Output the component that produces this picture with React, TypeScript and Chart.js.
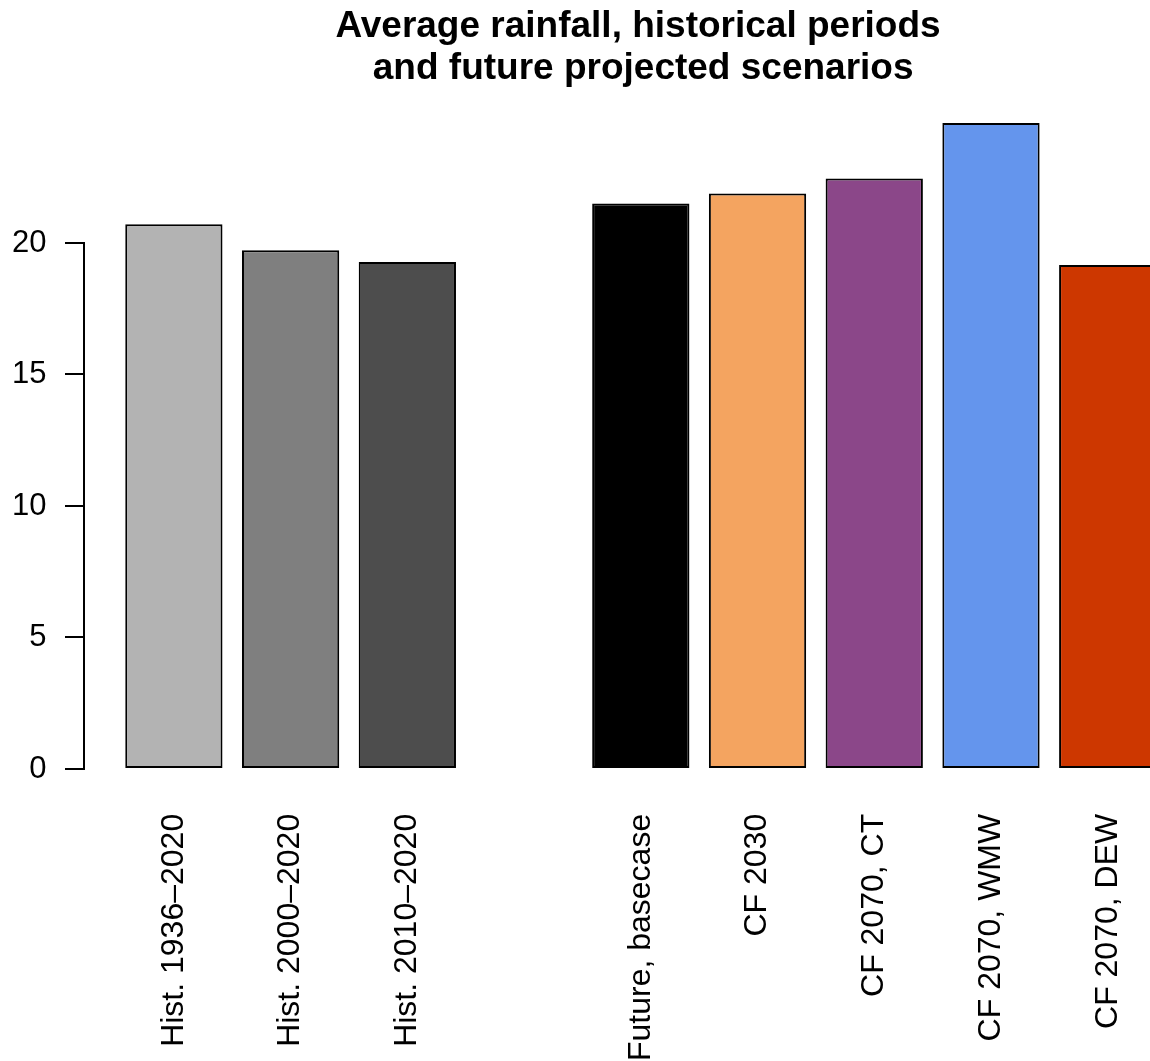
import React, { useEffect, useRef } from "react";
import { Chart, registerables } from "chart.js";

Chart.register(...registerables);

// ---- data ----
const categories = [
  "Hist. 1936–2020",
  "Hist. 2000–2020",
  "Hist. 2010–2020",
  "Future, basecase",
  "CF 2030",
  "CF 2070, CT",
  "CF 2070, WMW",
  "CF 2070, DEW",
];
const rainfall = [20.71, 19.72, 19.28, 21.5, 21.88, 22.45, 24.56, 19.16];
const periodGroup = [
  "historical",
  "historical",
  "historical",
  "future",
  "future",
  "future",
  "future",
  "future",
];
const barColors = [
  "#B3B3B3",
  "#7F7F7F",
  "#4D4D4D",
  "#000000",
  "#F4A460",
  "#8B4789",
  "#6495ED",
  "#CD3700",
];
const yTickValues = [0, 5, 10, 15, 20];
const titleLines = [
  "Average rainfall, historical periods",
  " and future projected scenarios",
];

// ---- layout (barplot-like geometry) ----
const FONT = "'Liberation Sans', Arial, Helvetica, sans-serif";
const CANVAS_W = 1276;
const CANVAS_H = 1061;
const PLOT_LEFT = 84;
const PLOT_RIGHT = 1197.6;
const PLOT_TOP = 97.2;
const PLOT_BOTTOM = 794.8;
const LINE_W = 2;

const BAR_WIDTH = 1;
const SPACE = 0.2;
const slots = categories.map((_, i) => i + (periodGroup[i] === "future" ? 1 : 0));
const xPositions = slots.map((s) => SPACE + s * (BAR_WIDTH + SPACE) + BAR_WIDTH / 2);
const xLo = SPACE;
const xHi = xPositions[xPositions.length - 1] + BAR_WIDTH / 2;
const xPad = 0.04 * (xHi - xLo);
const xAxisMin = xLo - xPad;
const pxPerUnit = (PLOT_RIGHT - PLOT_LEFT) / (xHi + xPad - xAxisMin);
const xAxisMax = xAxisMin + (CANVAS_W - PLOT_LEFT) / pxPerUnit;
const yMaxData = Math.max(...rainfall);
const yPad = 0.04 * yMaxData;

const axisLinePlugin = {
  id: "rAxisLine",
  afterDraw(chart: any) {
    const y = chart.scales.y;
    const ctx = chart.ctx;
    const x = Math.round(chart.chartArea.left);
    ctx.save();
    ctx.strokeStyle = "#000";
    ctx.lineWidth = LINE_W;
    ctx.beginPath();
    ctx.moveTo(x, y.getPixelForValue(yTickValues[0]) + LINE_W / 2);
    ctx.lineTo(x, y.getPixelForValue(yTickValues[yTickValues.length - 1]) - LINE_W / 2);
    ctx.stroke();
    ctx.restore();
  },
};

export default function App() {
  const ref = useRef<HTMLCanvasElement | null>(null);

  useEffect(() => {
    if (!ref.current) return;
    const chart = new Chart(ref.current, {
      type: "bar",
      data: {
        datasets: [
          {
            data: rainfall.map((v, i) => ({ x: xPositions[i], y: v })),
            backgroundColor: barColors,
            borderColor: "#000000",
            borderWidth: LINE_W,
            borderSkipped: false,
            categoryPercentage: 1,
            barPercentage: BAR_WIDTH / (BAR_WIDTH + SPACE),
          } as any,
        ],
      },
      options: {
        responsive: false,
        animation: false,
        devicePixelRatio: 1,
        events: [],
        layout: {
          padding: { left: 0, top: 0, right: 0, bottom: 0 },
        },
        plugins: {
          legend: { display: false },
          tooltip: { enabled: false },
          title: {
            display: true,
            text: titleLines,
            color: "#000",
            font: { family: FONT, size: 37, weight: "bold", lineHeight: 42 / 37 },
            padding: { top: 5.5, bottom: PLOT_TOP - 84 - 5.5 },
          },
        },
        scales: {
          x: {
            type: "linear",
            offset: false,
            min: xAxisMin,
            max: xAxisMax,
            grid: { display: false, drawTicks: false },
            border: { display: false },
            afterBuildTicks: (s: any) => {
              s.ticks = xPositions.map((v) => ({ value: v }));
            },
            afterFit: (s: any) => {
              s.height = CANVAS_H - PLOT_BOTTOM;
            },
            ticks: {
              autoSkip: false,
              minRotation: 90,
              maxRotation: 90,
              padding: 19,
              color: "#000",
              font: { family: FONT, size: 32 },
              callback: (_v: any, i: number) => categories[i],
            },
          },
          y: {
            type: "linear",
            min: -yPad,
            max: yMaxData + yPad,
            border: { display: false },
            grid: {
              drawOnChartArea: false,
              drawTicks: true,
              tickLength: 19,
              color: "#000",
              lineWidth: LINE_W,
            },
            afterBuildTicks: (s: any) => {
              s.ticks = yTickValues.map((v) => ({ value: v }));
            },
            afterFit: (s: any) => {
              s.width = PLOT_LEFT;
            },
            ticks: {
              padding: 18.5,
              color: "#000",
              font: { family: FONT, size: 31 },
              callback: (v: any) => String(v),
            },
          },
        },
      } as any,
      plugins: [axisLinePlugin],
    });
    return () => chart.destroy();
  }, []);

  return (
    <div
      style={{
        position: "fixed",
        left: 0,
        top: 0,
        width: 1150,
        height: CANVAS_H,
        overflow: "hidden",
        background: "#fff",
      }}
    >
      <canvas
        ref={ref}
        width={CANVAS_W}
        height={CANVAS_H}
        style={{ display: "block", width: CANVAS_W, height: CANVAS_H }}
      />
    </div>
  );
}
